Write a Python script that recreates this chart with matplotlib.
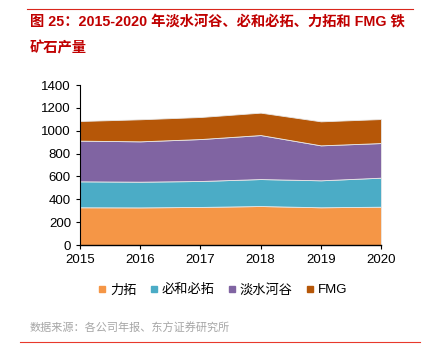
import numpy as np
import matplotlib.pyplot as plt
from matplotlib.lines import Line2D

plt.rcParams['font.family'] = ['Liberation Sans', 'Noto Sans CJK SC', 'DejaVu Sans']
plt.rcParams['axes.unicode_minus'] = False

# 数据（百万吨，读图估计）
years = [2015, 2016, 2017, 2018, 2019, 2020]
rio = [330, 329, 333, 341, 330, 335]
bhp = [227, 225, 227, 236, 236, 254]
vale = [356, 353, 367, 385, 306, 303]
fmg = [172, 193, 193, 196, 210, 210]
names = ['力拓', '必和必拓', '淡水河谷', 'FMG']
colors = ['#F59646', '#4BACC6', '#8064A2', '#B65708']

fig = plt.figure(figsize=(4.33, 3.56), dpi=100)
ax = fig.add_axes([80 / 433, 1 - 245 / 356, 301 / 433, 160 / 356])

ax.stackplot(years, rio, bhp, vale, fmg, colors=colors,
             edgecolor='#e8e8e8', linewidth=0.6)

ax.set_xlim(2015, 2020)
ax.set_ylim(0, 1400)
ax.set_xticks(years)
ax.set_yticks(np.arange(0, 1401, 200))
ax.tick_params(labelsize=9.5, length=3, width=0.8, colors='black')
for s in ['top', 'right']:
    ax.spines[s].set_visible(False)
ax.spines['left'].set_linewidth(0.8)
ax.spines['bottom'].set_linewidth(1.0)

# 图例
handles = [Line2D([], [], marker='s', linestyle='none', markersize=5,
                  markerfacecolor=c, markeredgecolor=c) for c in colors]
fig.legend(handles, names, loc='center', bbox_to_anchor=(223 / 433, 1 - 290 / 356),
           ncol=4, frameon=False, fontsize=9.5, handlelength=0.6, handletextpad=0.3,
           columnspacing=1.0)

# 标题
fig.add_artist(Line2D([27 / 433, 413 / 433], [1 - 9 / 356, 1 - 9 / 356], color='#d9261c', linewidth=0.8))
fig.text(30 / 433, 1 - 22 / 356, '图 25：2015-2020 年淡水河谷、必和必拓、力拓和 FMG 铁',
         color='#c00000', fontsize=10.3, fontweight='bold', va='center')
fig.text(30 / 433, 1 - 48 / 356, '矿石产量', color='#c00000', fontsize=10.3,
         fontweight='bold', va='center')

# 数据来源
fig.text(30 / 433, 1 - 328 / 356, '数据来源：各公司年报、东方证券研究所', color='#a6a6a6',
         fontsize=8, va='center')
fig.add_artist(Line2D([20 / 433, 420 / 433], [1 - 342 / 356, 1 - 342 / 356], color='#e8392c', linewidth=0.8))

plt.savefig('out.png', dpi=100)
